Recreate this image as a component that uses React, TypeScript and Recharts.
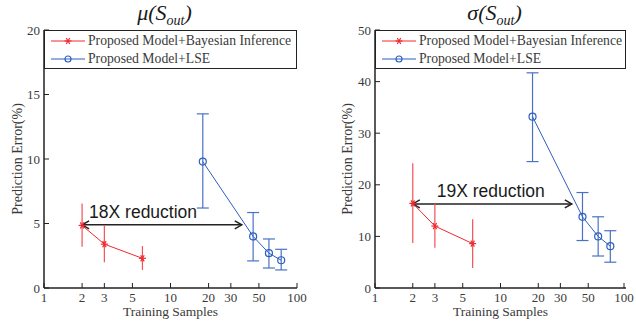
import React from 'react';
import { ComposedChart, Line, XAxis, YAxis, ErrorBar, ReferenceLine, Legend, Label } from 'recharts';

// training sample counts
const bayesSamples = [2, 3, 6];
const lseSamples = [18, 45, 60, 75];
const xTicks = [1, 2, 3, 5, 10, 20, 30, 50, 100];

// mean prediction error (%)
const muBayes = [4.85, 3.4, 2.3];
const muBayesLow = [3.2, 2.0, 1.4];
const muBayesHigh = [6.55, 4.85, 3.25];
const muLse = [9.8, 4.0, 2.7, 2.15];
const muLseLow = [6.2, 2.1, 1.55, 1.4];
const muLseHigh = [13.5, 5.85, 3.8, 3.0];
const muTicks = [0, 5, 10, 15, 20];

// std prediction error (%)
const sigBayes = [16.4, 12.0, 8.6];
const sigBayesLow = [8.7, 7.8, 3.9];
const sigBayesHigh = [24.2, 16.4, 13.3];
const sigLse = [33.2, 13.8, 10.0, 8.1];
const sigLseLow = [24.5, 9.2, 6.2, 5.0];
const sigLseHigh = [41.7, 18.5, 13.8, 11.1];
const sigTicks = [0, 10, 20, 30, 40, 50];

const RED = '#ee2a30';
const RED_ERR = '#f25058';
const BLUE = '#2e5fbf';
const BLUE_ERR = '#4a72c4';
const AXIS = '#222';
const TEXT = '#3a3a3a';
const SERIF = 'Liberation Serif';

const series = (xs: number[], ys: number[], lo: number[], hi: number[]) =>
    xs.map((x, i) => ({ x, y: ys[i], err: [ys[i] - lo[i], hi[i] - ys[i]] }));

const StarDot = (props: any) => {
    const { cx, cy, key } = props;
    if (cx == null || cy == null) return null;
    const r = 3.5;
    return (
        <g key={key} stroke={RED} strokeWidth={1.2}>
            <line x1={cx - r} y1={cy} x2={cx + r} y2={cy} />
            <line x1={cx - r * 0.5} y1={cy - r * 0.87} x2={cx + r * 0.5} y2={cy + r * 0.87} />
            <line x1={cx + r * 0.5} y1={cy - r * 0.87} x2={cx - r * 0.5} y2={cy + r * 0.87} />
        </g>
    );
};

const XTick = (props: any) => {
    const { x, y, payload } = props;
    return (
        <g>
            <line x1={x} x2={x} y1={y - 4} y2={y - 9} stroke={AXIS} strokeWidth={1} />
            <text x={x} y={y} dy={10} textAnchor="middle" fontFamily={SERIF} fontSize={13} fill={TEXT}>{payload.value}</text>
        </g>
    );
};

const YTick = (props: any) => {
    const { x, y, payload } = props;
    return (
        <g>
            <line x1={x + 4} x2={x + 9} y1={y} y2={y} stroke={AXIS} strokeWidth={1} />
            <text x={x} y={y} dy={4.5} textAnchor="end" fontFamily={SERIF} fontSize={13} fill={TEXT}>{payload.value}</text>
        </g>
    );
};

const RightTick = (props: any) => {
    const { x, y } = props;
    return <line x1={x} x2={x - 5} y1={y} y2={y} stroke={AXIS} strokeWidth={1} />;
};

const XTitle = ({ viewBox }: any) => (
    <text x={viewBox.x + viewBox.width / 2} y={viewBox.y + 28} textAnchor="middle" fontFamily={SERIF} fontSize={13.5} fill={TEXT}>
        Training Samples
    </text>
);

const makeYTitle = (cx: number) => ({ viewBox }: any) => {
    const cy = viewBox.y + viewBox.height / 2;
    return (
        <text x={cx} y={cy} transform={`rotate(-90 ${cx} ${cy})`} dy={5} textAnchor="middle" fontFamily={SERIF} fontSize={14} fill={TEXT}>
            Prediction Error(%)
        </text>
    );
};

const makeArrow = (text: string, dx: number) => (props: any) => {
    const { x1, y1, x2, y2 } = props;
    const h = 7;
    return (
        <g>
            <line x1={x1} y1={y1} x2={x2} y2={y2} stroke={AXIS} strokeWidth={1.5} />
            <polyline points={`${x1 + h},${y1 - 4} ${x1},${y1} ${x1 + h},${y1 + 4}`} fill="none" stroke={AXIS} strokeWidth={1.5} />
            <polyline points={`${x2 - h},${y2 - 4} ${x2},${y2} ${x2 - h},${y2 + 4}`} fill="none" stroke={AXIS} strokeWidth={1.5} />
            <text x={x1 + dx} y={y1 - 7} fontFamily="Liberation Sans" fontSize={17.5} fill="#1a1a1a">{text}</text>
        </g>
    );
};

const LegendBox = () => (
    <div style={{ fontFamily: SERIF, fontSize: 13.7, color: TEXT, whiteSpace: 'nowrap' }}>
        {[
            { name: 'Proposed Model+Bayesian Inference', color: RED, star: true },
            { name: 'Proposed Model+LSE', color: BLUE, star: false },
        ].map((item) => (
            <div key={item.name} style={{ display: 'flex', alignItems: 'center', height: 18 }}>
                <svg width={38} height={18} style={{ marginLeft: 4, flexShrink: 0 }}>
                    <line x1={2} x2={36} y1={9} y2={9} stroke={item.color} strokeWidth={1} />
                    {item.star ? <StarDot cx={19} cy={9} /> : <circle cx={19} cy={9} r={3} fill="none" stroke={item.color} strokeWidth={1.2} />}
                </svg>
                <span style={{ marginLeft: 1 }}>{item.name}</span>
            </div>
        ))}
    </div>
);

interface PanelProps {
    title: string;
    yMax: number;
    yTicks: number[];
    bayes: any[];
    lse: any[];
    arrow: { from: number; to: number; y: number; text: string; dx: number };
    yAxisWidth: number;
    marginRight: number;
    labelX: number;
}

function Panel({ title, yMax, yTicks, bayes, lse, arrow, yAxisWidth, marginRight, labelX }: PanelProps) {
    const plotW = 318 - yAxisWidth - marginRight;
    return (
        <div style={{ position: 'relative', width: 318, height: 324 }}>
            <div style={{ position: 'absolute', left: yAxisWidth - 6, width: plotW, top: 0, textAlign: 'center', fontFamily: SERIF, fontStyle: 'italic', fontSize: 22, color: '#1a1a1a', zIndex: 2 }}>
                {title}(S<sub style={{ fontSize: 14 }}>out</sub>)
            </div>
            <ComposedChart width={318} height={324} margin={{ top: 30, right: marginRight, bottom: 0, left: 0 }}>
                <XAxis dataKey="x" type="number" scale="log" domain={[1, 100]} ticks={xTicks} allowDataOverflow
                    height={36} tickSize={0} tickMargin={4} tick={XTick} tickLine={false}
                    axisLine={{ stroke: AXIS, strokeWidth: 1.5 }}>
                    <Label content={XTitle} />
                </XAxis>
                <YAxis type="number" domain={[0, yMax]} ticks={yTicks} width={yAxisWidth} tickSize={0} tickMargin={4}
                    tick={YTick} tickLine={false} axisLine={{ stroke: AXIS, strokeWidth: 1.5 }}>
                    <Label content={makeYTitle(labelX)} />
                </YAxis>
                <YAxis yAxisId="right" orientation="right" type="number" domain={[0, yMax]} ticks={yTicks} width={0}
                    tickSize={0} tickMargin={0} tick={RightTick} tickLine={false} axisLine={{ stroke: AXIS, strokeWidth: 1.5 }} />
                <Legend layout="vertical" align="center" verticalAlign="middle" content={LegendBox}
                    wrapperStyle={{ top: 30, left: yAxisWidth, width: plotW, height: 39, border: `1.5px solid ${AXIS}`, background: '#fff', boxSizing: 'border-box', paddingTop: 1, overflow: 'hidden' }} />
                <ReferenceLine segment={[{ x: arrow.from, y: arrow.y }, { x: arrow.to, y: arrow.y }]} ifOverflow="visible"
                    shape={makeArrow(arrow.text, arrow.dx)} />
                <Line data={bayes} dataKey="y" stroke={RED} strokeWidth={1} dot={StarDot} isAnimationActive={false}>
                    <ErrorBar dataKey="err" width={0} stroke={RED_ERR} strokeWidth={1.2} direction="y" />
                </Line>
                <Line data={lse} dataKey="y" stroke={BLUE} strokeWidth={1} dot={{ r: 3.5, fill: 'none', stroke: BLUE, strokeWidth: 1.2 }} isAnimationActive={false}>
                    <ErrorBar dataKey="err" width={6} stroke={BLUE_ERR} strokeWidth={1.2} direction="y" />
                </Line>
            </ComposedChart>
        </div>
    );
}

export default function App() {
    return (
        <div style={{ position: 'absolute', left: 0, top: 0, width: 636, height: 324, display: 'flex', background: '#fff' }}>
            <Panel title="μ" yMax={20} yTicks={muTicks}
                bayes={series(bayesSamples, muBayes, muBayesLow, muBayesHigh)}
                lse={series(lseSamples, muLse, muLseLow, muLseHigh)}
                arrow={{ from: 2, to: 36.6, y: 4.9, text: '18X reduction', dx: 7 }}
                yAxisWidth={44} marginRight={21} labelX={17} />
            <Panel title="σ" yMax={50} yTicks={sigTicks}
                bayes={series(bayesSamples, sigBayes, sigBayesLow, sigBayesHigh)}
                lse={series(lseSamples, sigLse, sigLseLow, sigLseHigh)}
                arrow={{ from: 2, to: 37, y: 16.3, text: '19X reduction', dx: 24 }}
                yAxisWidth={57} marginRight={10} labelX={29} />
        </div>
    );
}
